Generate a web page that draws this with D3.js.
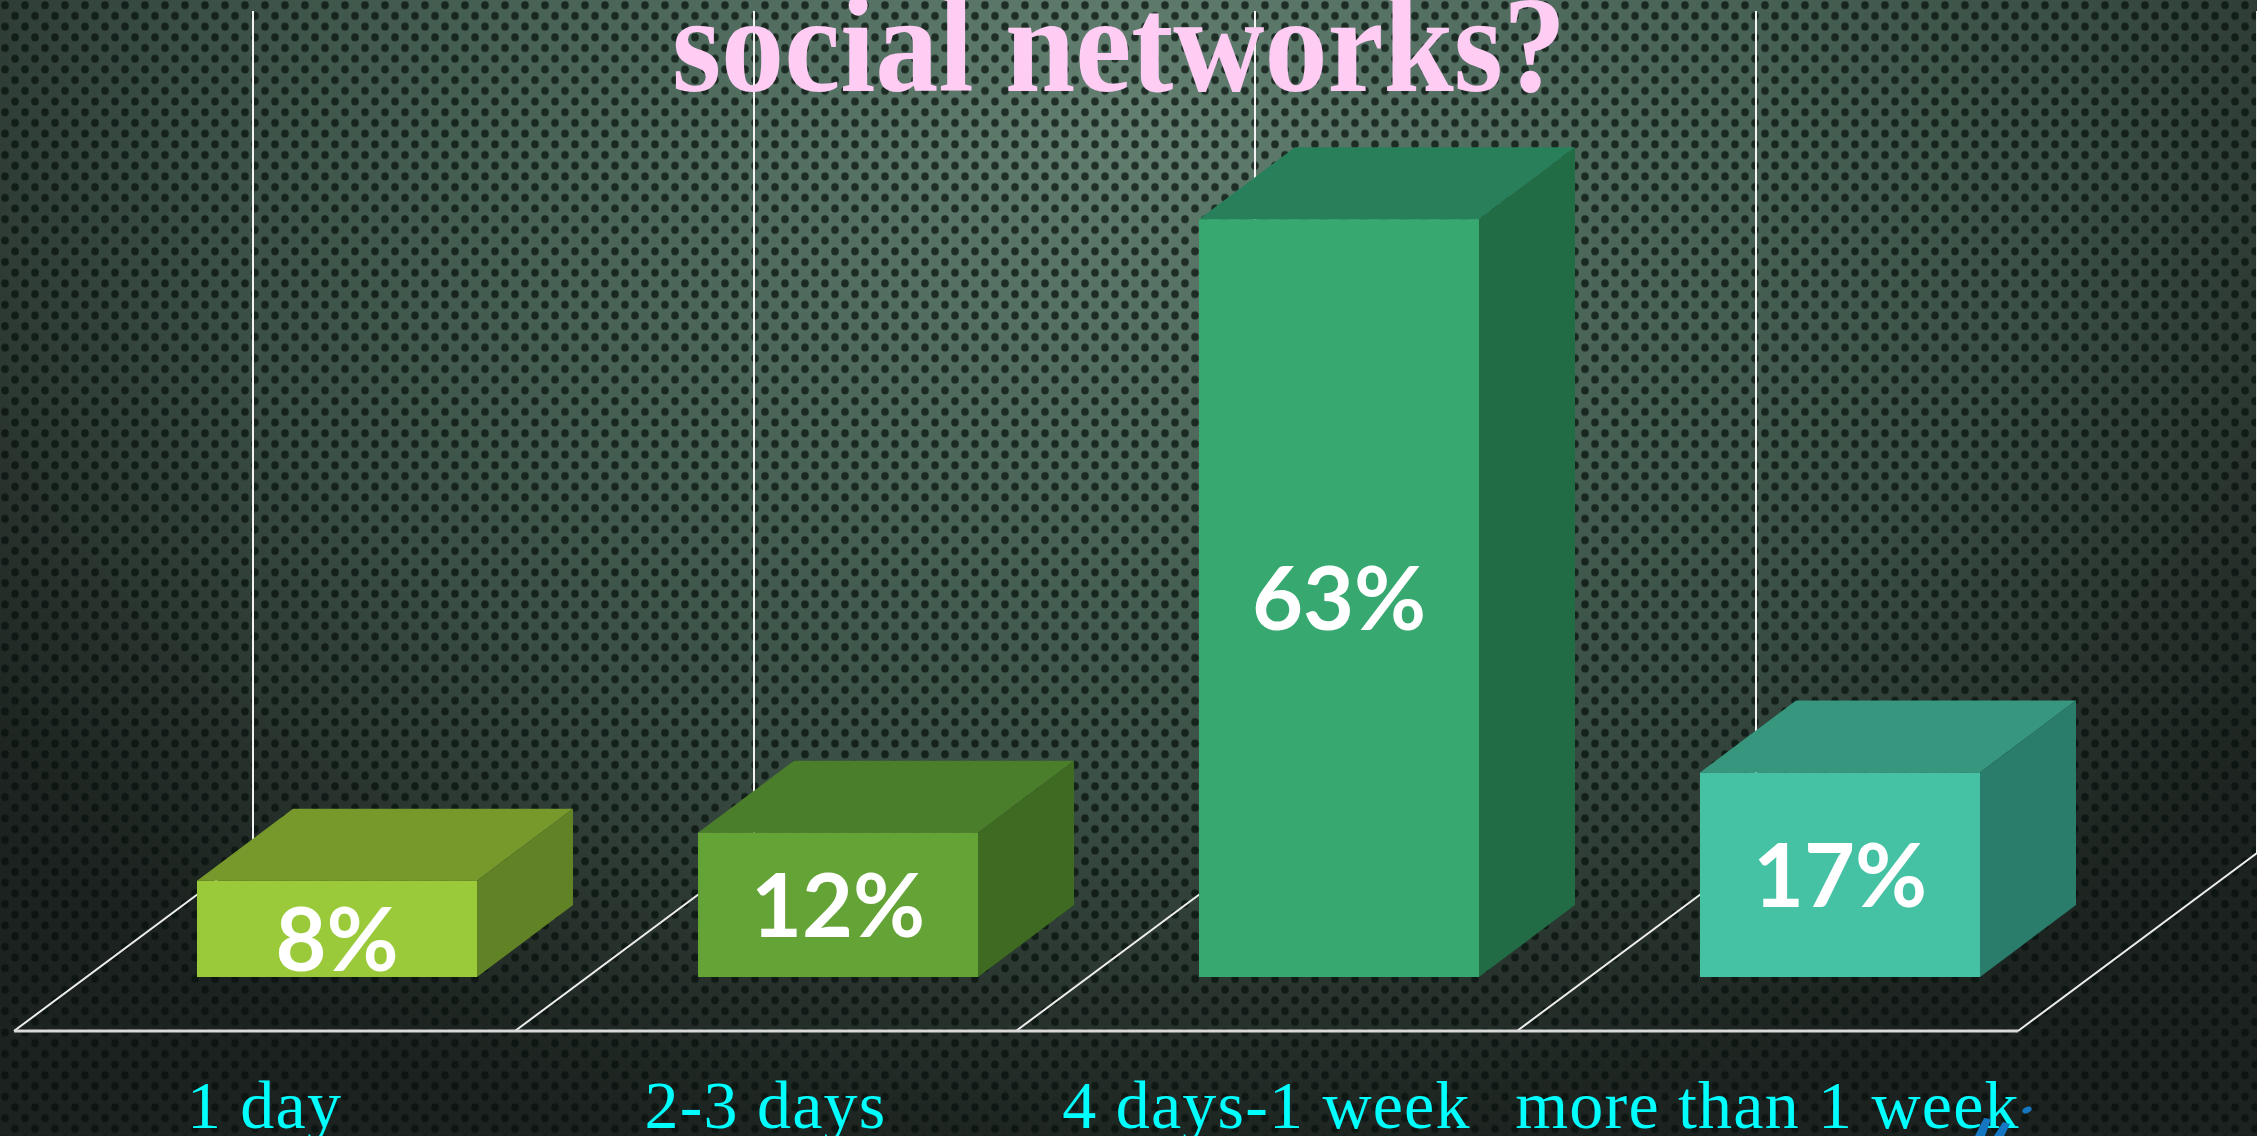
<!DOCTYPE html>
<html>
<head>
<meta charset="utf-8">
<script src="https://cdn.jsdelivr.net/npm/d3@7"></script>
<style>
  html, body { margin: 0; padding: 0; background: #1c2320; overflow: hidden; }
  svg { display: block; }
</style>
</head>
<body>
<svg id="chart" width="2257" height="1136"></svg>
<script>
// chart data
const categories = ["1 day", "2-3 days", "4 days-1 week", "more than 1 week"];
const values = [8, 12, 63, 17];
const valueLabels = ["8%", "12%", "63%", "17%"];
const frontColors = ["#9aca3a", "#64a336", "#37a870", "#45c1a3"];
const topColors = ["#77992c", "#4b7e2a", "#27805a", "#36967e"];
const sideColors = ["#628226", "#3f6a22", "#216b45", "#2b7d6b"];
const yMax = 70;

const svg = d3.select("svg");
const width = 2257;
const height = 1136;

// layout (full size px)
const floorLeft = 14, floorRight = 2018, floorY = 1031;
const depth = { x: 239, y: 178 };      // floor depth offset
const barFront = { x: 72.5, y: 54 };   // where bar front sits in depth
const barDepth = { x: 96, y: 72 };     // bar depth offset
const barRatio = 280 / 501;
const plotH = 842;

// 1. background (gradient + perforated dots)
const defs = svg.append("defs");
const grad = defs.append("radialGradient")
    .attr("id", "bg")
    .attr("gradientUnits", "userSpaceOnUse")
    .attr("cx", 0).attr("cy", 0).attr("r", 1)
    .attr("gradientTransform", "translate(1130,100) scale(1500,1100)");
grad.append("stop").attr("offset", 0).attr("stop-color", "#627f70");
grad.append("stop").attr("offset", 0.37).attr("stop-color", "#4a6558");
grad.append("stop").attr("offset", 0.63).attr("stop-color", "#3a4f45");
grad.append("stop").attr("offset", 0.81).attr("stop-color", "#2a352f");
grad.append("stop").attr("offset", 0.93).attr("stop-color", "#1f2723");
grad.append("stop").attr("offset", 1).attr("stop-color", "#1b221f");

const pat = defs.append("pattern")
    .attr("id", "dots")
    .attr("patternUnits", "userSpaceOnUse")
    .attr("width", 20).attr("height", 21.4);
[[5, 5.3], [15, 16]].forEach(p => {
    pat.append("ellipse").attr("cx", p[0]).attr("cy", p[1]).attr("rx", 3.8).attr("ry", 4)
        .attr("fill", "#07110c").attr("opacity", 0.72);
});

svg.append("rect").attr("width", width).attr("height", height).attr("fill", "url(#bg)");
svg.append("rect").attr("width", width).attr("height", height).attr("fill", "url(#dots)");

// 2. scales
const x = d3.scaleBand().domain(categories).range([floorLeft, floorRight]).padding(0);
const barW = x.bandwidth() * barRatio;
const baseY = floorY - barFront.y;
const y = d3.scaleLinear().domain([0, yMax]).range([baseY, baseY - plotH]);
const wallY = d3.scaleLinear().domain([0, yMax]).range([floorY - depth.y, floorY - depth.y - plotH]);

const edges = categories.map(c => x(c)).concat([floorRight]);

// 3. back wall lines
svg.append("g")
    .selectAll("line")
    .data(edges)
    .enter()
    .append("line")
    .attr("x1", d => d + depth.x).attr("x2", d => d + depth.x)
    .attr("y1", wallY(0)).attr("y2", wallY(yMax))
    .attr("stroke", "#f2f2f2")
    .attr("stroke-width", 2);

// 4. floor
const floor = svg.append("g");
floor.selectAll("line")
    .data(edges)
    .enter()
    .append("line")
    .attr("x1", d => d).attr("y1", floorY)
    .attr("x2", d => d + depth.x).attr("y2", floorY - depth.y)
    .attr("stroke", "#eeeeee")
    .attr("stroke-width", 2);
floor.append("line")
    .attr("x1", floorLeft).attr("x2", floorRight)
    .attr("y1", floorY).attr("y2", floorY)
    .attr("stroke", "#d9d9d9")
    .attr("stroke-width", 3);

// 5. bars
const bars = svg.append("g")
    .selectAll("g")
    .data(categories)
    .enter()
    .append("g");

const bx = (c) => x(c) + barFront.x + (x.bandwidth() - barW) / 2;

bars.append("polygon")
    .attr("points", (c, i) => {
        const x0 = bx(c), top = y(values[i]);
        return [[x0, top], [x0 + barW, top], [x0 + barW + barDepth.x, top - barDepth.y], [x0 + barDepth.x, top - barDepth.y]].join(" ");
    })
    .attr("fill", (c, i) => topColors[i]);

bars.append("polygon")
    .attr("points", (c, i) => {
        const x1 = bx(c) + barW, top = y(values[i]), bot = y(0);
        return [[x1, top], [x1 + barDepth.x, top - barDepth.y], [x1 + barDepth.x, bot - barDepth.y], [x1, bot]].join(" ");
    })
    .attr("fill", (c, i) => sideColors[i]);

bars.append("rect")
    .attr("x", c => bx(c))
    .attr("y", (c, i) => y(values[i]))
    .attr("width", barW)
    .attr("height", (c, i) => y(0) - y(values[i]))
    .attr("fill", (c, i) => frontColors[i]);

// value labels (small bar label sits a bit lower, like the original)
bars.append("text")
    .attr("x", c => bx(c) + barW / 2)
    .attr("y", (c, i) => Math.max((y(values[i]) + y(0)) / 2 + 32, y(values[i]) + 90))
    .attr("text-anchor", "middle")
    .attr("font-family", "Lato, 'Noto Sans', sans-serif")
    .attr("font-weight", 700)
    .attr("font-size", 88)
    .attr("fill", "#ffffff")
    .text((c, i) => valueLabels[i]);

// 6. category labels
svg.append("g")
    .selectAll("text")
    .data(categories)
    .enter()
    .append("text")
    .attr("x", c => x(c) + x.bandwidth() / 2)
    .attr("y", 1128)
    .attr("text-anchor", "middle")
    .attr("font-family", "'Liberation Serif', 'Times New Roman', serif")
    .attr("font-size", 68)
    .attr("letter-spacing", 1.2)
    .attr("fill", "#00ffff")
    .text(c => c);

// stray blue marks peeking in at bottom right
const stray = svg.append("g").attr("fill", "#1577c2");
stray.append("ellipse").attr("cx", 2027).attr("cy", 1110).attr("rx", 5).attr("ry", 3)
    .attr("transform", "rotate(-25,2027,1110)");
stray.append("path").attr("d", "M1975,1136 L1984,1118 L1991,1119 L1985,1136 Z");
stray.append("path").attr("d", "M1994,1136 L2003,1122 L2010,1124 L2004,1136 Z");

// 7. title (first line cut off above the picture)
svg.append("text")
    .attr("x", 1119)
    .attr("y", 91)
    .attr("text-anchor", "middle")
    .attr("font-family", "'Liberation Serif', 'Times New Roman', serif")
    .attr("font-weight", 700)
    .attr("font-size", 138)
    .attr("textLength", 894)
    .attr("lengthAdjust", "spacingAndGlyphs")
    .attr("fill", "#ffccf4")
    .text("social networks?");
</script>
</body>
</html>
